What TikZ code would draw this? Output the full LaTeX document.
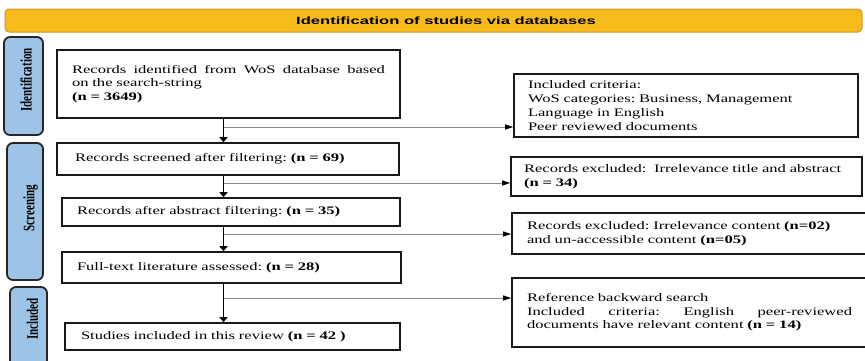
\documentclass[tikz,border=0pt]{standalone}
\usepackage{fontspec}
\setmainfont{Liberation Serif}[FakeStretch=1.44]
\newfontfamily\titlefont{Liberation Sans}[FakeStretch=1.58]
\newfontfamily\phasefont{Liberation Serif}
\usetikzlibrary{arrows.meta}
\definecolor{barfill}{HTML}{F8BB1C}
\definecolor{barline}{HTML}{C8982A}
\definecolor{phasefill}{HTML}{9DC3E6}
\definecolor{phaseline}{HTML}{262626}
\definecolor{branchgray}{HTML}{8A8A8A}

\begin{document}
\frenchspacing
\begin{tikzpicture}[x=1pt,y=-1pt,
  font=\fontsize{11.5}{13.5}\selectfont,
  titlebar/.style={draw=barline, line width=1pt, fill=barfill, rounded corners=4pt,
    minimum width=857pt, minimum height=23pt, inner sep=0pt},
  titletext/.style={inner sep=0pt, font=\titlefont\bfseries\fontsize{10.5}{12}\selectfont},
  phase/.style={draw=phaseline, line width=1.8pt, fill=phasefill, rounded corners=6pt,
    inner sep=0pt},
  phasetext/.style={rotate=90, inner sep=0pt, font=\phasefont\bfseries\fontsize{11}{12}\selectfont},
  flowbox/.style={draw=black!90, line width=1.6pt, align=left, inner ysep=0pt},
  down/.style={draw=black, line width=1.1pt, -{Triangle[length=5pt,width=8pt]}},
  branch/.style={draw=branchgray, line width=0.9pt, -{Triangle[length=8pt,width=5pt,color=black]}},
]
\useasboundingbox (0,0) rectangle (865,360);
\clip (0,0) rectangle (865,360);

% header bar
\node[titlebar] (head) at (433.5,20.5) {};
\node[titletext] (headtext) at (446,20.5) {Identification of studies via databases};

% phase bars on the left
\node[phase, minimum width=39pt, minimum height=98pt] (pid) at (23.5,86) {};
\node[phase, minimum width=36pt, minimum height=137pt] (psc) at (25,211.5) {};
\node[phase, minimum width=37pt, minimum height=93pt] (pin) at (28.5,333.5) {};
\node[phasetext] (lid) at (26,80) {\scalebox{1}[1.45]{Identification}};
\node[phasetext] (lsc) at (30.5,208) {\scalebox{1}[1.45]{Screening}};
\node[phasetext] (lin) at (32.5,319) {\scalebox{1}[1.45]{Included}};

% main flow
\node[flowbox, minimum height=68pt, inner xsep=15pt, text width=313pt] (b1) at (228.5,84)
  {\makebox[\linewidth][s]{Records\hfill identified\hfill from\hfill WoS\hfill database\hfill based}\\
   on the search-string\\ \textbf{(n = 3649)}};
\node[flowbox, minimum height=32pt, inner xsep=18pt, text width=306pt] (b2) at (228,159)
  {Records screened after filtering: \textbf{(n = 69)}};
\node[flowbox, minimum height=28pt, inner xsep=15pt, text width=308pt] (b3) at (231,212)
  {Records after abstract filtering: \textbf{(n = 35)}};
\node[flowbox, minimum height=31pt, inner xsep=15pt, text width=309pt] (b4) at (231.5,267.5)
  {Full-text literature assessed: \textbf{(n = 28)}};
\node[flowbox, minimum height=27pt, inner xsep=16pt, text width=303pt] (b5) at (232.5,336.5)
  {Studies included in this review \textbf{(n = 42 )}};

% side boxes
\node[flowbox, minimum height=63pt, inner xsep=14pt, text width=316pt,
  font=\fontsize{11.5}{14}\selectfont] (r1) at (686,105.5)
  {Included criteria:\\ WoS categories: Business, Management\\
   Language in English\\ Peer reviewed documents};
\node[flowbox, minimum height=39pt, inner xsep=13pt, text width=325pt] (r2) at (686.5,176.5)
  {Records excluded:\ \ Irrelevance title and abstract\\ \textbf{(n = 34)}};
\node[flowbox, minimum height=41pt, inner xsep=15pt, text width=338pt] (r3) at (696,233.5)
  {Records excluded: Irrelevance content \textbf{(n=02)}\\
   and un-accessible content \textbf{(n=05)}};
\node[flowbox, minimum height=69pt, inner xsep=15pt, text width=338pt] (r4) at (696,312.5)
  {Reference backward search\\
   \makebox[325pt][s]{Included\hfill criteria:\hfill English\hfill peer-reviewed}\\
   documents have relevant content \textbf{(n = 14)}};

% vertical arrows
\coordinate (col) at (223.5,0);
\draw[down] (b1.south -| col) -- (b2.north -| col);
\draw[down] (b2.south -| col) -- (b3.north -| col);
\draw[down] (b3.south -| col) -- (b4.north -| col);
\draw[down] (b4.south -| col) -- (b5.north -| col);

% branches to the side boxes
\coordinate (j1) at (223.5,127);
\coordinate (j2) at (223.5,183);
\coordinate (j3) at (223.5,234);
\coordinate (j4) at (223.5,298);
\draw[branch] (j1) -- (j1 -| r1.west);
\draw[branch] (j2) -- (j2 -| r2.west);
\draw[branch] (j3) -- (j3 -| r3.west);
\draw[branch] (j4) -- (j4 -| r4.west);
\end{tikzpicture}
\end{document}
